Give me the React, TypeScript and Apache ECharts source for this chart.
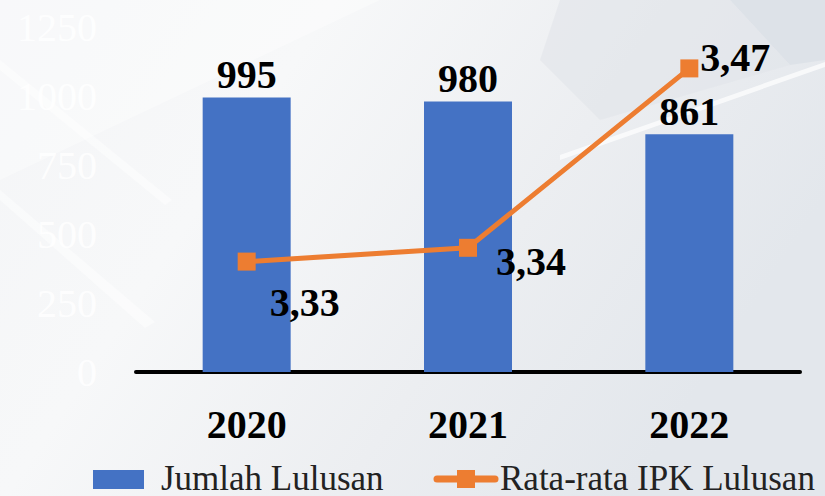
import React, { useEffect, useRef } from "react";
import * as echarts from "echarts";

const categories = ["2020", "2021", "2022"];
const jumlahLulusan = [995, 980, 861];
const rataIPK = [3.33, 3.34, 3.47];
const seriesNames = ["Jumlah Lulusan", "Rata-rata IPK Lulusan"];
const ipkLabelOffsets = [
  [58, 41],
  [63, 14],
  [46, -11],
];
const yTicks = [0, 250, 500, 750, 1000, 1250];

const SERIF = "Liberation Serif";
const BLUE = "#4472C4";
const ORANGE = "#ED7D31";

export default function App() {
  const ref = useRef<HTMLDivElement>(null);
  useEffect(() => {
    if (!ref.current) return;
    const chart = echarts.init(ref.current, null, { renderer: "svg" });
    const legendFont = { fontFamily: SERIF, fontSize: 35, fill: "#222" };
    chart.setOption({
      animation: false,
      textStyle: { fontFamily: SERIF },
      backgroundColor: {
        type: "linear",
        x: 0,
        y: 0,
        x2: 1,
        y2: 0.4,
        colorStops: [
          { offset: 0, color: "#f4f5f7" },
          { offset: 0.35, color: "#f7f8f9" },
          { offset: 0.7, color: "#eceef1" },
          { offset: 1, color: "#e3e7ec" },
        ],
      },
      graphic: [
        {
          type: "polygon",
          silent: true,
          z: -10,
          shape: { points: [[730, 0], [825, 0], [825, 60], [790, 65]] },
          style: { fill: "#dde2e8" },
        },
        {
          type: "polygon",
          silent: true,
          z: -10,
          shape: { points: [[560, 0], [730, 0], [790, 65], [600, 120], [540, 60]] },
          style: { fill: "rgba(225,229,234,0.6)" },
        },
        {
          type: "polygon",
          silent: true,
          z: -9,
          shape: { points: [[0, 190], [0, 200], [145, 328], [155, 322]] },
          style: { fill: "rgba(255,255,255,0.45)" },
        },
        {
          type: "polygon",
          silent: true,
          z: -9,
          shape: { points: [[0, 60], [0, 70], [165, 205], [172, 200]] },
          style: { fill: "rgba(255,255,255,0.45)" },
        },
        {
          type: "polygon",
          silent: true,
          z: -9,
          shape: { points: [[825, 62], [825, 67], [560, 160], [560, 155]] },
          style: { fill: "rgba(255,255,255,0.7)" },
        },
        {
          type: "polygon",
          silent: true,
          z: -9,
          shape: { points: [[0, 0], [380, 0], [0, 180]] },
          style: { fill: "rgba(255,255,255,0.35)" },
        },
        // legend
        {
          type: "rect",
          silent: true,
          shape: { x: 93, y: 470, width: 51, height: 19 },
          style: { fill: BLUE },
        },
        {
          type: "text",
          silent: true,
          x: 161,
          y: 478,
          style: { text: seriesNames[0], ...legendFont, verticalAlign: "middle", align: "left" },
        },
        {
          type: "line",
          silent: true,
          shape: { x1: 437, y1: 479, x2: 495, y2: 479 },
          style: { stroke: ORANGE, lineWidth: 7, lineCap: "round" },
        },
        {
          type: "rect",
          silent: true,
          shape: { x: 457, y: 470, width: 18, height: 18 },
          style: { fill: ORANGE },
        },
        {
          type: "text",
          silent: true,
          x: 500,
          y: 478,
          style: { text: seriesNames[1], ...legendFont, verticalAlign: "middle", align: "left" },
        },
      ],
      grid: { left: 136, right: 25, top: 27, bottom: 124, containLabel: false },
      legend: { show: false },
      xAxis: {
        type: "category",
        data: categories,
        axisLine: { show: true, lineStyle: { color: "#000", width: 4 } },
        axisTick: { show: false },
        axisLabel: {
          margin: 32,
          fontFamily: SERIF,
          fontWeight: "bold",
          fontSize: 40,
          color: "#000",
        },
      },
      yAxis: [
        {
          type: "value",
          min: yTicks[0],
          max: yTicks[yTicks.length - 1],
          interval: 250,
          splitLine: { show: false },
          axisLine: { show: false },
          axisTick: { show: false },
          axisLabel: {
            margin: 39,
            fontFamily: SERIF,
            fontSize: 40,
            color: "rgba(255,255,255,0.85)",
            formatter: (v: number) => String(v),
          },
        },
        {
          type: "value",
          min: 3.25,
          max: 3.5,
          show: false,
          splitLine: { show: false },
        },
      ],
      series: [
        {
          name: seriesNames[0],
          type: "bar",
          data: jumlahLulusan,
          barWidth: 88,
          itemStyle: { color: BLUE },
          label: {
            show: true,
            position: "top",
            distance: 3,
            fontFamily: SERIF,
            fontWeight: "bold",
            fontSize: 40,
            color: "#000",
          },
        },
        {
          name: seriesNames[1],
          type: "line",
          yAxisIndex: 1,
          data: rataIPK.map((v, i) => ({
            value: v,
            label: { offset: ipkLabelOffsets[i] },
          })),
          symbol: "rect",
          symbolSize: 18,
          lineStyle: { color: ORANGE, width: 5 },
          itemStyle: { color: ORANGE },
          z: 5,
          label: {
            show: true,
            position: "inside",
            fontFamily: SERIF,
            fontWeight: "bold",
            fontSize: 40,
            color: "#000",
            formatter: (p: any) => Number(p.value).toFixed(2).replace(".", ","),
          },
        },
      ],
    });
    return () => chart.dispose();
  }, []);
  return <div ref={ref} style={{ width: 825, height: 496, position: "fixed", left: 0, top: 0 }} />;
}
